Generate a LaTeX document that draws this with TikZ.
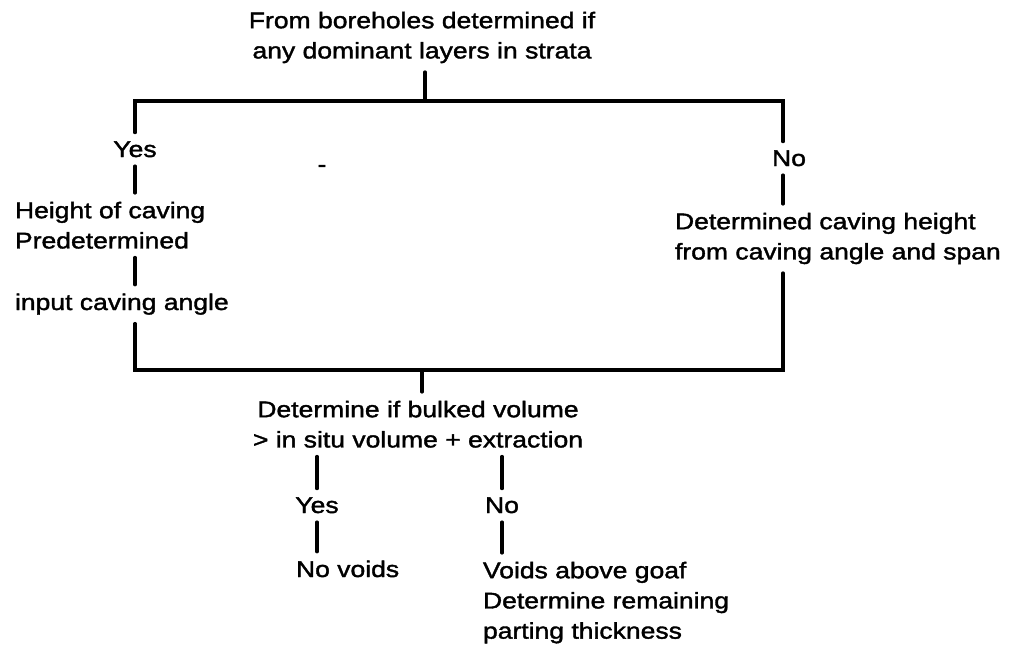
\documentclass[tikz,border=0pt]{standalone}
\usepackage{fontspec}
\setmainfont{Liberation Sans}[FakeStretch=1.17,FakeBold=1.6]
\usepackage{tikz}
\usetikzlibrary{positioning}
\tikzset{
  txt/.style={inner sep=0pt, outer xsep=0pt, outer ysep=5pt, font=\fontsize{12.9}{17.2}\selectfont},
  link/.style={draw, line width=1.8pt, line cap=round}
}

\begin{document}
\begin{tikzpicture}[x=0.02cm, y=-0.02cm]
  \useasboundingbox (0,0) rectangle (1013,650);

  % question from the boreholes
  \node[txt, anchor=north, align=center] (q1) at (422,3) {From boreholes determined if\\any dominant layers in strata};
  \coordinate (tj) at (425,101);
  \coordinate (tl) at (135,101);
  \coordinate (tr) at (783,101);

  \node[txt, anchor=base] (yes1) at (135,157) {Yes};
  \node[txt, anchor=north west, align=left] (hpre) at (15,193) {Height of caving\\Predetermined};
  \node[txt, anchor=base west] (inang) at (15,310) {input caving angle};
  \node[txt, anchor=base] (dash) at (322,172) {-};

  \node[txt, anchor=base] (no1) at (789,166) {No};
  \node[txt, anchor=north west, align=left] (dch) at (675,204) {Determined caving height\\from caving angle and span};

  \coordinate (bl) at (135,370);
  \coordinate (br) at (783,370);
  \coordinate (bj) at (422,370);

  % bulking check
  \node[txt, anchor=north, align=center] (q2) at (418,392) {Determine if bulked volume\\> in situ volume + extraction};
  \node[txt, anchor=base] (yes2) at (317,513) {Yes};
  \node[txt, anchor=base west] (novoid) at (296,577) {No voids};
  \node[txt, anchor=base] (no2) at (502,513) {No};
  \node[txt, anchor=north west, align=left] (voids) at (483,553) {Voids above goaf\\Determine remaining\\parting thickness};

  \draw[link] (q1.south -| tj) -- (tj);
  \draw[link] (yes1.north) -- (tl) -- (tr) -- (tr |- no1.north);
  \draw[link] (yes1.south) -- (yes1.south |- hpre.north);
  \draw[link] (yes1.south |- hpre.south) -- (yes1.south |- inang.north);
  \draw[link] (tr |- no1.south) -- (tr |- dch.north);
  \draw[link] (tr |- dch.south) -- (br) -- (bl) -- (bl |- inang.south);
  \draw[link] (bj) -- (bj |- q2.north);
  \draw[link] (yes2.north |- q2.south) -- (yes2.north);
  \draw[link] (yes2.south) -- (yes2.south |- novoid.north);
  \draw[link] (no2.north |- q2.south) -- (no2.north);
  \draw[link] (no2.south) -- (no2.south |- voids.north);
\end{tikzpicture}
\end{document}
